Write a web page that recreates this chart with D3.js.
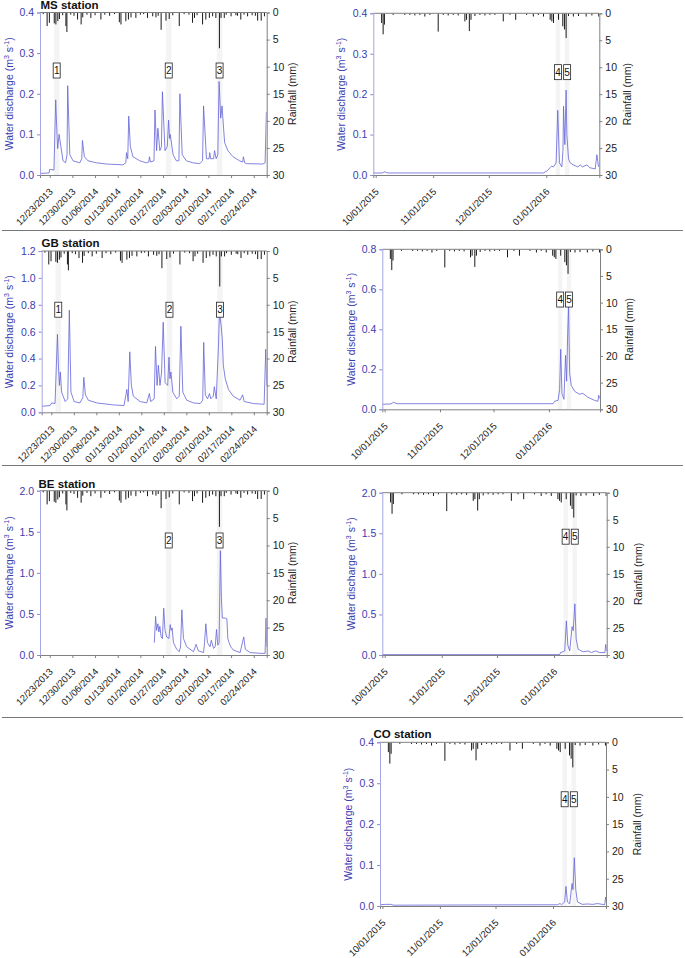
<!DOCTYPE html>
<html><head><meta charset="utf-8">
<script src="https://cdn.jsdelivr.net/npm/d3@7"></script>
<style>body{margin:0;background:#fff} text{font-family:"Liberation Sans",Arial,sans-serif}</style>
</head><body><svg id="c" width="685" height="958"></svg>
<script>
// ---------- DATA (day offsets from series start, value) ----------
// Winter 2013-14: days since 2013-12-20
const msWinter = [[0,0.004],[2.8,0.005],[3.0,0.014],[4.3,0.012],[4.85,0.185],[5.15,0.12],[5.45,0.065],[5.9,0.1],[7.1,0.035],[7.9,0.03],[8.35,0.05],[8.55,0.22],[9.2,0.05],[10.2,0.035],[12.3,0.03],[12.9,0.04],[13.1,0.085],[13.7,0.045],[14.8,0.035],[17.4,0.03],[20.5,0.027],[25.6,0.025],[26.5,0.03],[26.7,0.055],[27.1,0.04],[27.4,0.145],[27.9,0.07],[28.7,0.045],[30.8,0.035],[32.8,0.03],[33.6,0.032],[33.8,0.045],[34.1,0.032],[35.2,0.035],[35.5,0.16],[36.0,0.06],[36.4,0.115],[37.0,0.06],[37.5,0.07],[37.8,0.205],[38.6,0.06],[39.3,0.07],[39.7,0.135],[40.0,0.09],[40.2,0.1],[41.1,0.05],[42.1,0.035],[42.9,0.035],[43.2,0.2],[43.9,0.05],[45.2,0.035],[47.2,0.03],[49.3,0.028],[50.2,0.035],[50.5,0.17],[51.4,0.04],[52.2,0.04],[52.4,0.055],[52.7,0.04],[53.6,0.04],[53.9,0.06],[54.4,0.04],[54.9,0.05],[55.3,0.23],[55.8,0.14],[56.2,0.17],[57.0,0.08],[58.0,0.06],[59.6,0.045],[61.6,0.035],[62.6,0.032],[62.8,0.045],[63.2,0.03],[63.7,0.028],[68.8,0.027],[69.5,0.03],[69.9,0.155]];
const gbWinter = [[0,0.045],[2.6,0.05],[3.1,0.07],[4.15,0.065],[4.9,0.58],[5.2,0.35],[5.5,0.2],[5.8,0.3],[6.2,0.15],[7.3,0.08],[8.1,0.1],[8.6,0.76],[9.1,0.15],[10.1,0.08],[11.9,0.07],[12.8,0.11],[13.1,0.26],[13.6,0.13],[14.5,0.09],[17.1,0.07],[22.3,0.055],[25.6,0.05],[26.5,0.17],[26.9,0.08],[27.4,0.45],[27.9,0.2],[28.5,0.12],[30.6,0.08],[32.7,0.07],[33.5,0.14],[33.9,0.08],[35.0,0.1],[35.4,0.49],[35.9,0.2],[36.3,0.35],[36.8,0.2],[37.3,0.3],[37.8,0.67],[38.4,0.22],[39.2,0.2],[39.6,0.41],[39.9,0.25],[40.2,0.3],[40.8,0.15],[42.0,0.1],[42.8,0.12],[43.3,0.64],[43.9,0.15],[45.1,0.09],[47.2,0.07],[49.3,0.065],[50.1,0.09],[50.4,0.52],[50.9,0.13],[51.6,0.1],[52.2,0.14],[52.6,0.1],[53.4,0.12],[53.7,0.19],[54.3,0.1],[55.0,0.5],[55.3,0.75],[55.8,0.65],[56.2,0.54],[56.5,0.35],[57.1,0.25],[58.1,0.17],[59.6,0.12],[61.7,0.09],[62.5,0.13],[63.0,0.08],[65.9,0.065],[69.2,0.06],[69.7,0.47],[70,0.2]];
const beWinter = [[35.3,0.15],[35.7,0.47],[36.0,0.3],[36.4,0.38],[36.7,0.28],[37.0,0.35],[37.4,0.22],[37.8,0.2],[38.2,0.57],[38.6,0.3],[39.1,0.22],[39.8,0.2],[40.2,0.37],[40.5,0.3],[40.8,0.33],[41.2,0.15],[42.2,0.07],[43.0,0.04],[43.4,0.1],[43.8,0.55],[44.3,0.2],[45.3,0.1],[47.4,0.04],[48.2,0.13],[48.9,0.05],[50.5,0.03],[50.8,0.15],[51.2,0.38],[51.7,0.15],[52.5,0.1],[52.9,0.18],[53.6,0.08],[54.1,0.1],[54.5,0.31],[54.9,0.12],[55.3,0.15],[55.7,1.27],[56.0,0.7],[56.3,0.45],[57.2,0.45],[57.7,0.44],[58.0,0.2],[58.3,0.16],[58.9,0.1],[59.7,0.06],[61.8,0.03],[62.9,0.22],[63.4,0.07],[64.9,0.03],[68.0,0.02],[69.5,0.02],[69.8,0.45],[70,0.1]];
const rainWinter = [[1.0,0.3],[2.2,2.5],[2.9,1.9],[4.4,2.0],[4.9,2.2],[5.5,1.6],[6.0,1.2],[7.0,0.5],[8.0,2.5],[8.3,3.6],[9.5,0.4],[10.5,0.6],[11.6,1.3],[12.7,2.2],[13.2,0.9],[14.5,0.4],[15.7,1.0],[17.0,0.5],[18.8,1.3],[20.0,0.4],[21.5,0.6],[23.0,0.3],[24.5,1.8],[25.0,2.2],[26.5,1.6],[27.3,1.3],[28.1,0.9],[29.6,1.0],[31.0,0.4],[32.0,0.3],[33.2,1.0],[34.8,0.7],[35.8,0.9],[36.5,0.6],[37.4,3.2],[38.9,1.5],[39.9,1.2],[41.0,0.5],[43.0,2.5],[44.5,0.3],[46.0,0.4],[47.1,1.9],[47.7,1.0],[48.5,0.5],[50.2,2.2],[51.2,1.3],[52.3,1.0],[53.3,0.7],[54.3,1.0],[55.4,6.6],[55.9,1.0],[56.9,1.0],[57.5,0.4],[59.0,0.7],[60.5,0.5],[61.0,0.6],[62.0,1.3],[63.0,0.4],[64.1,0.7],[65.5,0.5],[66.5,0.6],[67.2,1.5],[68.3,1.5],[69.3,0.7]];
// Fall 2015-16: days since 2015-10-01
const msFall = [[-1.3,0.005],[3.5,0.005],[4.9,0.008],[6.5,0.005],[90.5,0.005],[92.3,0.01],[94.1,0.018],[94.9,0.022],[95.9,0.02],[97.3,0.03],[98.2,0.16],[99.1,0.03],[100.4,0.02],[101.0,0.06],[101.3,0.17],[102.0,0.075],[102.7,0.21],[103.1,0.1],[104.0,0.04],[104.9,0.03],[106.6,0.025],[109.0,0.02],[110.3,0.025],[111.5,0.02],[113.9,0.025],[115.5,0.018],[118.4,0.015],[119.3,0.05],[120.2,0.02]];
const gbFall = [[-1.3,0.025],[3.5,0.027],[5.0,0.035],[6.9,0.028],[94.3,0.028],[95.2,0.04],[97.1,0.045],[98.0,0.1],[98.6,0.3],[99.3,0.08],[100.4,0.05],[101.3,0.27],[101.9,0.14],[102.5,0.38],[103.0,0.52],[103.6,0.18],[104.5,0.12],[106.4,0.09],[109.1,0.075],[111.0,0.08],[113.8,0.06],[117.5,0.045],[119.4,0.04],[119.9,0.07],[120.3,0.055]];
const beFall = [[-1.5,0.005],[95.1,0.005],[95.5,0.03],[96.9,0.04],[97.8,0.05],[98.7,0.42],[99.5,0.12],[100.5,0.05],[101.8,0.35],[102.4,0.3],[103.3,0.63],[104.0,0.2],[105.1,0.07],[107.8,0.04],[110.5,0.05],[112.3,0.03],[114.5,0.05],[116.8,0.03],[119.6,0.03],[120.1,0.13],[120.5,0.05]];
const coFall = [[-1.3,0.003],[1.5,0.004],[4.5,0.004],[6.0,0.002],[94.4,0.003],[95.8,0.006],[96.6,0.003],[98.3,0.01],[99.0,0.048],[99.8,0.01],[101.0,0.005],[102.3,0.055],[102.8,0.04],[103.5,0.118],[104.3,0.04],[105.2,0.01],[107.8,0.004],[110.6,0.005],[113.5,0.004],[116.0,0.006],[119.9,0.003],[120.4,0.022],[121.0,0.005]];
const rainFall = [[3.2,1.8],[4.0,3.9],[4.7,2.1],[9.4,0.3],[15.7,0.3],[18.4,0.3],[21.1,0.4],[23.8,0.3],[26.5,0.6],[29.2,0.3],[33.7,3.4],[36.4,0.3],[39.1,0.4],[41.8,0.3],[44.5,0.4],[48.1,1.5],[49.0,1.2],[50.5,3.3],[51.4,1.2],[53.5,0.5],[56.2,0.3],[58.9,0.4],[61.6,0.3],[64.3,0.3],[68.8,1.5],[72.4,0.3],[75.5,1.2],[81.4,0.3],[85.0,0.6],[87.7,0.3],[90.5,0.6],[94.1,1.2],[95.0,1.5],[95.9,1.8],[98.6,1.2],[100.9,2.4],[101.8,3.0],[102.7,4.6],[104.0,0.5],[106.6,0.6],[109.4,0.5],[113.5,0.6],[116.6,0.4],[120.3,0.6]];
// Events (start day, end day)
const winterEvents = [{n:'1',a:4.3,b:6.0},{n:'2',a:38.9,b:40.6},{n:'3',a:54.6,b:56.3}];
const beEvents = [{n:'2',a:38.9,b:40.6},{n:'3',a:54.6,b:56.3}];
const fallEvents = [{n:'4',a:97.1,b:99.5},{n:'5',a:102.0,b:104.5}];
// Tick values
const rainTicks = [0,5,10,15,20,25,30];
const ticksMS = [0,0.1,0.2,0.3,0.4];
const ticksGB = [0,0.2,0.4,0.6,0.8,1.0,1.2];
const ticksBE = [0,0.5,1.0,1.5,2.0];
const ticksGBf = [0,0.2,0.4,0.6,0.8];
const winterTickLabels = ["12/23/2013","12/30/2013","01/06/2014","01/13/2014","01/20/2014","01/27/2014","02/03/2014","02/10/2014","02/17/2014","02/24/2014"];
const fallTickLabels = ["10/01/2015","11/01/2015","12/01/2015","01/01/2016"];

// ---------- DRAWING ----------
const svg = d3.select('#c');
const blueTxt = '#3b3bb0', qLine = '#6363d8', gray = '#808080';
const winterStart = new Date(2013,11,20), fallStart = new Date(2015,9,1);
const toDate = (base,d) => new Date(base.getTime() + d*864e5);
const parse = d3.timeParse('%m/%d/%Y');

const W = {base:winterStart, dom:[0,70], labels:winterTickLabels, rain:rainWinter};
const F = {base:fallStart, dom:[-1.3,120.6], labels:fallTickLabels, rain:rainFall};

const panels = [
 {id:'msw', s:W, x0:40, x1:266.7, y0:12.5, y1:175, qMax:0.4, qt:ticksMS, q:msWinter, ev:winterEvents, bf:0.357, title:'MS station', tx:40.5, ty:9, lab:31, rlab:26},
 {id:'msf', s:F, x0:373.3, x1:599.3, y0:13.3, y1:175, qMax:0.4, qt:ticksMS, q:msFall, ev:fallEvents, bf:0.364, lab:32, rlab:28},
 {id:'gbw', s:W, x0:41.7, x1:266.7, y0:251, y1:412.3, qMax:1.2, qt:ticksGB, q:gbWinter, ev:winterEvents, bf:0.364, title:'GB station', tx:41.5, ty:246.5, lab:32, rlab:26},
 {id:'gbf', s:F, x0:382.3, x1:600, y0:249.3, y1:409.3, qMax:0.8, qt:ticksGBf, q:gbFall, ev:fallEvents, bf:0.314, lab:31, rlab:29},
 {id:'bew', s:W, x0:40, x1:266.7, y0:490.7, y1:655, qMax:2.0, qt:ticksBE, q:beWinter, ev:beEvents, bf:0.303, title:'BE station', tx:38.5, ty:488, lab:31, rlab:26},
 {id:'bef', s:F, x0:382.3, x1:606.7, y0:492.7, y1:655, qMax:2.0, qt:ticksBE, q:beFall, ev:fallEvents, bf:0.271, lab:31, rlab:32},
 {id:'cof', s:F, x0:380, x1:606, y0:742.3, y1:906, qMax:0.4, qt:ticksMS, q:coFall, ev:fallEvents, bf:0.348, title:'CO station', tx:373.5, ty:738, lab:32, rlab:31}
];

const defs = svg.append('defs');
panels.forEach(p => {
  const s = p.s;
  const x = d3.scaleTime().domain([toDate(s.base,s.dom[0]), toDate(s.base,s.dom[1])]).range([p.x0,p.x1]);
  const yq = d3.scaleLinear().domain([0,p.qMax]).range([p.y1,p.y0]);
  const yr = d3.scaleLinear().domain([0,30]).range([p.y0,p.y1]);
  const X = d => x(toDate(s.base,d));
  defs.append('clipPath').attr('id','cl'+p.id).append('rect')
    .attr('x',p.x0).attr('y',p.y0).attr('width',p.x1-p.x0).attr('height',p.y1-p.y0);
  const g = svg.append('g');
  const pg = g.append('g').attr('clip-path',`url(#cl${p.id})`);
  pg.selectAll('rect.band').data(p.ev).join('rect').attr('class','band')
    .attr('x',e=>X(e.a)).attr('width',e=>X(e.b)-X(e.a))
    .attr('y',p.y0).attr('height',p.y1-p.y0).attr('fill','#f4f4f4');
  pg.selectAll('rect.rain').data(s.rain).join('rect').attr('class','rain')
    .attr('x',d=>X(d[0])-0.5).attr('width',1).attr('y',p.y0)
    .attr('height',d=>yr(d[1])-yr(0)).attr('fill','#1a1a1a');
  pg.append('path').datum(p.q)
    .attr('d', d3.line().x(d=>X(d[0])).y(d=>yq(d[1])))
    .attr('fill','none').attr('stroke',qLine).attr('stroke-width',0.8);

  // frame top
  g.append('line').attr('x1',p.x0).attr('x2',p.x1).attr('y1',p.y0).attr('y2',p.y0).attr('stroke',gray).attr('stroke-width',1);

  // left axis
  const la = g.append('g').attr('transform',`translate(${p.x0},0)`)
    .call(d3.axisLeft(yq).tickValues(p.qt).tickFormat(d3.format('.1f')).tickSize(3).tickPadding(3));
  la.select('.domain').attr('stroke','#a6a6e6');
  la.selectAll('.tick line').attr('stroke','#8888cc');
  la.selectAll('text').attr('fill',blueTxt).style('font-size','10.5px');

  // right axis
  const ra = g.append('g').attr('transform',`translate(${p.x1},0)`)
    .call(d3.axisRight(yr).tickValues(rainTicks).tickSize(3).tickPadding(3));
  ra.select('.domain').attr('stroke',gray);
  ra.selectAll('.tick line').attr('stroke',gray);
  ra.selectAll('text').attr('fill','#222').style('font-size','10.5px');

  // bottom axis
  const tv = s.labels.map(parse);
  const ba = g.append('g').attr('transform',`translate(0,${p.y1})`)
    .call(d3.axisBottom(x).tickValues(tv).tickFormat(d3.timeFormat('%m/%d/%Y')).tickSize(3));
  ba.select('.domain').attr('stroke',gray);
  ba.selectAll('.tick line').attr('stroke',gray);
  ba.selectAll('text').attr('fill','#222').style('font-size','9.5px')
    .attr('x',0).attr('y',0).attr('dy','0.35em').attr('text-anchor','end')
    .attr('transform','translate(1,15) rotate(-45)');

  // event boxes
  const by = p.y0 + p.bf*(p.y1-p.y0);
  const eb = g.selectAll('g.ev').data(p.ev).join('g').attr('class','ev')
    .attr('transform',e=>`translate(${(X(e.a)+X(e.b))/2},${by})`);
  eb.append('rect').attr('x',-3.5).attr('y',-7.5).attr('width',7).attr('height',15)
    .attr('fill','#fff').attr('stroke','#222').attr('stroke-width',0.8);
  eb.append('text').attr('text-anchor','middle').attr('y',3.7).style('font-size','10px').attr('fill','#111').text(e=>e.n);

  // axis labels
  const cy = (p.y0+p.y1)/2;
  const lt = g.append('text').attr('transform',`translate(${p.x0-p.lab},${cy}) rotate(-90)`)
    .attr('text-anchor','middle').attr('dy','0.35em').attr('fill',blueTxt).style('font-size','10.5px');
  lt.append('tspan').text('Water discharge (m');
  lt.append('tspan').attr('dy',-4).style('font-size','7px').text('3');
  lt.append('tspan').attr('dy',4).text(' s');
  lt.append('tspan').attr('dy',-4).style('font-size','7px').text('-1');
  lt.append('tspan').attr('dy',4).text(')');
  g.append('text').attr('transform',`translate(${p.x1+p.rlab},${cy}) rotate(-90)`)
    .attr('text-anchor','middle').attr('dy','0.35em').attr('fill','#222').style('font-size','10.5px').text('Rainfall (mm)');

  if (p.title) g.append('text').attr('x',p.tx).attr('y',p.ty).style('font-size','11.5px').style('font-weight','bold').attr('fill','#111').text(p.title);
});

// separators
[230.5, 465.5, 717.5].forEach(y => svg.append('line').attr('x1',2).attr('x2',683).attr('y1',y).attr('y2',y).attr('stroke','#777').attr('stroke-width',1.2));
</script></body></html>
